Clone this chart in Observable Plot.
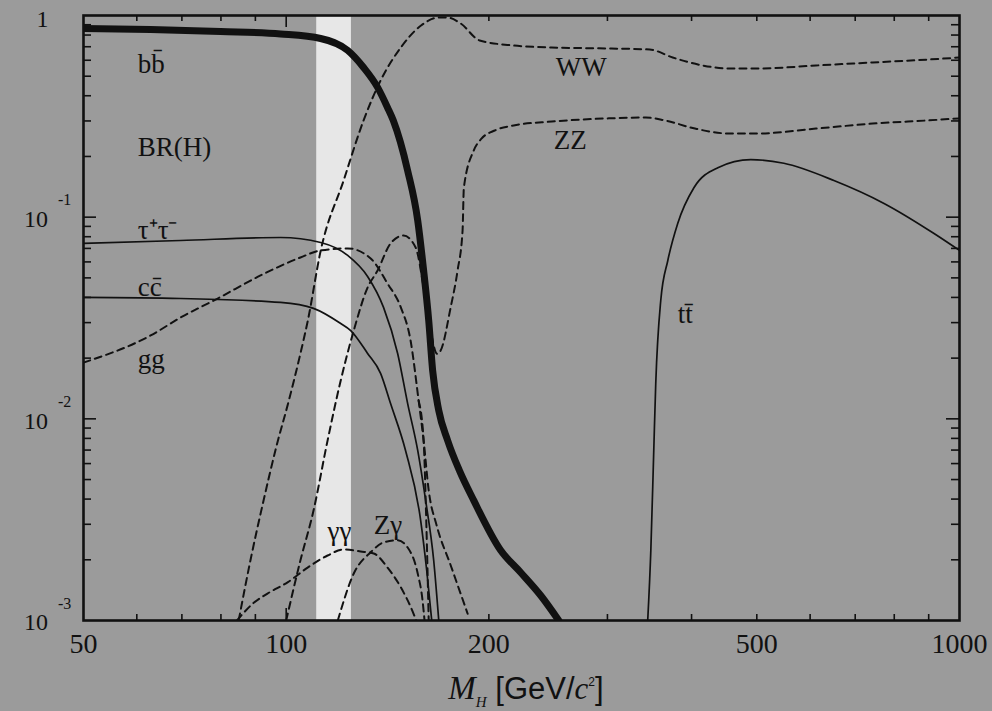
<!DOCTYPE html>
<html><head><meta charset="utf-8">
<script src="https://cdn.jsdelivr.net/npm/d3@7"></script>
<script src="https://cdn.jsdelivr.net/npm/@observablehq/plot@0.6"></script>
<style>
html,body{margin:0;padding:0;background:#9b9b9b;}
#wrap{position:relative;width:992px;height:711px;overflow:hidden;background:#9b9b9b;}
#chart svg{display:block;}
#xt{position:absolute;left:30px;top:665px;width:992px;height:46px;line-height:46px;text-align:center;
  font-family:"Liberation Sans",Arial,sans-serif;font-size:31px;color:#111;}
#xt .m{font-family:"Liberation Serif",serif;font-style:italic;font-size:33px;}
#xt .s{font-family:"Liberation Serif",serif;font-style:italic;font-size:15px;position:relative;top:8px;}
#xt .c{font-family:"Liberation Serif",serif;font-style:italic;}
#xt .p{font-size:12px;position:relative;top:-13px;}
</style></head><body>
<div id="wrap"><div id="chart"></div>
<div id="xt"><span class="m">M</span><span class="s">H</span> [GeV/<span class="c">c</span><span class="p">2</span>]</div>
</div>
<script>
// ---- data (Higgs mass in GeV, branching ratio) ----
const massBB = [50, 62.9, 79.9, 98.1, 112.5, 123.4, 130.3, 136.7, 141.4, 144.2, 151.5, 156.8, 160.0, 162.8, 165.0, 168.5, 173.7, 181, 189.9, 208.2, 223, 238.8, 254];
const brBB   = [0.862, 0.852, 0.833, 0.81, 0.769, 0.671, 0.552, 0.44, 0.35, 0.302, 0.170, 0.0963, 0.0544, 0.0308, 0.0174, 0.0110, 0.00781, 0.0055, 0.00394, 0.00223, 0.00173, 0.00133, 0.001];

const massTau = [50, 69.7, 98.1, 112.5, 123.4, 132.1, 139.5, 146.4, 151.5, 156.8, 161.1, 165.6, 168.5];
const brTau   = [0.0741, 0.0766, 0.0793, 0.0749, 0.0646, 0.0508, 0.0357, 0.0211, 0.0119, 0.00697, 0.00394, 0.00199, 0.001];

const massCC = [50, 69.7, 98.1, 109.8, 120.5, 124.7, 132.1, 138.1, 142.9, 150.4, 158.4, 161.7, 164.5];
const brCC   = [0.040, 0.0395, 0.0378, 0.0353, 0.0297, 0.0274, 0.0211, 0.0168, 0.0119, 0.00697, 0.00313, 0.00177, 0.001];

const massGG = [50, 62.9, 69.7, 79.1, 91.6, 105, 112.5, 123.4, 133.5, 141.4, 148, 153, 157.3, 160, 162.8, 167.3, 175.5, 186];
const brGG   = [0.019, 0.0259, 0.0318, 0.0395, 0.0514, 0.0631, 0.0684, 0.070, 0.0624, 0.0469, 0.0357, 0.0245, 0.0123, 0.0078, 0.00442, 0.00296, 0.00188, 0.00108];

const massGGdrop = [157.3, 160, 161.5, 162.8];
const brGGdrop   = [0.0123, 0.0078, 0.003, 0.001];

const massAA = [84.5, 89.4, 93.8, 100.6, 107.6, 115.2, 121.7, 129, 134.9, 141.4, 148, 154.6, 156];
const brAA   = [0.001, 0.00122, 0.00136, 0.00155, 0.00183, 0.0021, 0.00225, 0.0022, 0.00215, 0.00183, 0.00146, 0.00108, 0.001];

const massZA = [119.3, 126, 133.5, 139.5, 146.4, 151.5, 156.8, 159.4, 160.5];
const brZA   = [0.001, 0.00171, 0.00218, 0.00244, 0.0025, 0.0023, 0.00171, 0.00126, 0.001];

const massWW = [85, 88.5, 92.2, 96.8, 100.9, 105, 107.7, 112.5, 121.7, 130.3, 138.1, 148, 158.6, 168.5, 173.7, 181.6, 193.8, 217.7, 248, 304, 346.7, 375, 415.7, 454, 503, 612, 743, 900, 1000];
const brWW   = [0.001, 0.00199, 0.00372, 0.00738, 0.0123, 0.0211, 0.0308, 0.068, 0.152, 0.302, 0.476, 0.694, 0.892, 0.977, 0.977, 0.913, 0.752, 0.710, 0.694, 0.686, 0.678, 0.619, 0.565, 0.546, 0.546, 0.565, 0.585, 0.605, 0.619];

const massZZ = [100, 105, 109.8, 115.2, 120.5, 126, 132.1, 136.7, 142.9, 149.4, 155.7, 160, 164, 167.5, 169.6, 175.5, 179.7, 182.8, 183.6, 189.9, 195, 204, 217.7, 248, 301.3, 342, 365, 404.6, 454, 503, 612, 743, 900, 1000];
const brZZ   = [0.001, 0.00199, 0.00351, 0.0078, 0.0155, 0.0274, 0.0448, 0.0544, 0.0741, 0.0811, 0.0707, 0.045, 0.027, 0.021, 0.0218, 0.0357, 0.0544, 0.0859, 0.14, 0.214, 0.245, 0.269, 0.285, 0.298, 0.309, 0.312, 0.302, 0.275, 0.260, 0.260, 0.275, 0.291, 0.302, 0.309];

const massTT = [344.3, 348, 351.5, 353.9, 360, 368.8, 381.5, 403.2, 437.6, 489.8, 548.5, 650.8, 772.5, 916.6, 1000];
const brTT   = [0.001, 0.00223, 0.00697, 0.0150, 0.0386, 0.061, 0.0931, 0.140, 0.176, 0.193, 0.185, 0.152, 0.117, 0.083, 0.0684];

const bandMass = [111, 125];

const labelText = ["b\u0062\u0304", "BR(H)", "\u03C4\u207A\u03C4\u207B", "c\u0063\u0304", "gg", "WW", "ZZ", "t\u0074\u0304", "\u03B3\u03B3", "Z\u03B3"];
const labelMass = [60.2, 60.2, 60.2, 60.2, 60.2, 251.3, 249.6, 381.5, 115.2, 134.9];
const labelBR   = [0.575, 0.223, 0.0865, 0.0451, 0.0197, 0.556, 0.2416, 0.0328, 0.00277, 0.00298];

const xLabelVals = [50, 100, 200, 500, 1000];
const xMajorTicks = [100];
const xMinorTicks = [60, 70, 80, 90, 200, 300, 400, 500, 600, 700, 800, 900];
const yLabelVals = [1, 0.1, 0.01, 0.001];
const yLabelMant = ["1", "10", "10", "10"];
const yLabelExp  = ["", "-1", "-2", "-3"];
const yMajorTicks = [0.1, 0.01];
const yMinorTicks = [0.002, 0.003, 0.004, 0.005, 0.006, 0.007, 0.008, 0.009,
                     0.02, 0.03, 0.04, 0.05, 0.06, 0.07, 0.08, 0.09,
                     0.2, 0.3, 0.4, 0.5, 0.6, 0.7, 0.8, 0.9];

// ---- build ----
const toRows = (name, M, BR) => M.map((m, i) => ({series: name, M: m, BR: BR[i]}));
const thick = toRows("bb", massBB, brBB);
const solid = [...toRows("tau", massTau, brTau), ...toRows("cc", massCC, brCC), ...toRows("tt", massTT, brTT)];
const dashed = [...toRows("gg", massGG, brGG), ...toRows("ggdrop", massGGdrop, brGGdrop),
  ...toRows("aa", massAA, brAA), ...toRows("za", massZA, brZA),
  ...toRows("ww", massWW, brWW), ...toRows("zz", massZZ, brZZ)];

const W = 992, H = 665, ML = 83, MR = 33, MT = 15, MB = 45;
const FW = W - ML - MR, FH = H - MT - MB;
const INK = "#111";
const SERIF = "Liberation Serif, Times New Roman, serif";

const chart = Plot.plot({
  width: W, height: H,
  marginLeft: ML, marginRight: MR, marginTop: MT, marginBottom: MB,
  x: {type: "log", domain: [50, 1000], axis: null},
  y: {type: "log", domain: [0.001, 1], axis: null},
  style: {background: "#9b9b9b", color: INK, fontFamily: SERIF, overflow: "visible"},
  marks: [
    Plot.rect([bandMass], {x1: d => d[0], x2: d => d[1], y1: 0.001, y2: 1, fill: "#e7e7e7"}),
    Plot.line(dashed, {x: "M", y: "BR", z: "series", stroke: INK, strokeWidth: 2, strokeDasharray: "7,5", curve: "monotone-x", clip: true}),
    Plot.line(solid, {x: "M", y: "BR", z: "series", stroke: INK, strokeWidth: 1.7, curve: "monotone-x", clip: true}),
    Plot.line(thick, {x: "M", y: "BR", z: "series", stroke: INK, strokeWidth: 7, curve: "monotone-x", clip: true}),
    // ticks (inward)
    Plot.tickX(xMinorTicks, {x: d => d, insetTop: FH - 6, stroke: INK, strokeWidth: 1.6}),
    Plot.tickX(xMinorTicks, {x: d => d, insetBottom: FH - 6, stroke: INK, strokeWidth: 1.6}),
    Plot.tickX(xMajorTicks, {x: d => d, insetTop: FH - 12, stroke: INK, strokeWidth: 1.6}),
    Plot.tickX(xMajorTicks, {x: d => d, insetBottom: FH - 12, stroke: INK, strokeWidth: 1.6}),
    Plot.tickY(yMinorTicks, {y: d => d, insetRight: FW - 8, stroke: INK, strokeWidth: 1.6}),
    Plot.tickY(yMinorTicks, {y: d => d, insetLeft: FW - 8, stroke: INK, strokeWidth: 1.6}),
    Plot.tickY(yMajorTicks, {y: d => d, insetRight: FW - 13, stroke: INK, strokeWidth: 1.6}),
    Plot.tickY(yMajorTicks, {y: d => d, insetLeft: FW - 13, stroke: INK, strokeWidth: 1.6}),
    Plot.frame({stroke: INK, strokeWidth: 2.6}),
    // tick labels
    Plot.text(xLabelVals, {x: d => d, text: d => String(d), frameAnchor: "bottom", dy: 32, fontSize: 28, fontFamily: SERIF, fill: INK}),
    Plot.text(yLabelVals, {y: d => d, text: (d, i) => yLabelMant[i], filter: d => d === 1, frameAnchor: "left", dx: -47, dy: 4, fontSize: 24, fontFamily: SERIF, fill: INK}),
    Plot.text(yLabelVals, {y: d => d, text: (d, i) => yLabelMant[i], filter: d => d !== 1, frameAnchor: "left", dx: -59.5, dy: 2, fontSize: 24, fontFamily: SERIF, fill: INK}),
    Plot.text(yLabelVals, {y: d => d, text: (d, i) => yLabelExp[i], filter: d => d !== 1, frameAnchor: "left", dx: -25.5, dy: -17, fontSize: 16, fontFamily: SERIF, fill: INK}),
    // curve labels
    Plot.text(labelText, {x: (d, i) => labelMass[i], y: (d, i) => labelBR[i], text: d => d, textAnchor: "start", fontSize: 27, fontFamily: SERIF, fill: INK})
  ]
});
document.getElementById("chart").appendChild(chart);
</script>
</body></html>
